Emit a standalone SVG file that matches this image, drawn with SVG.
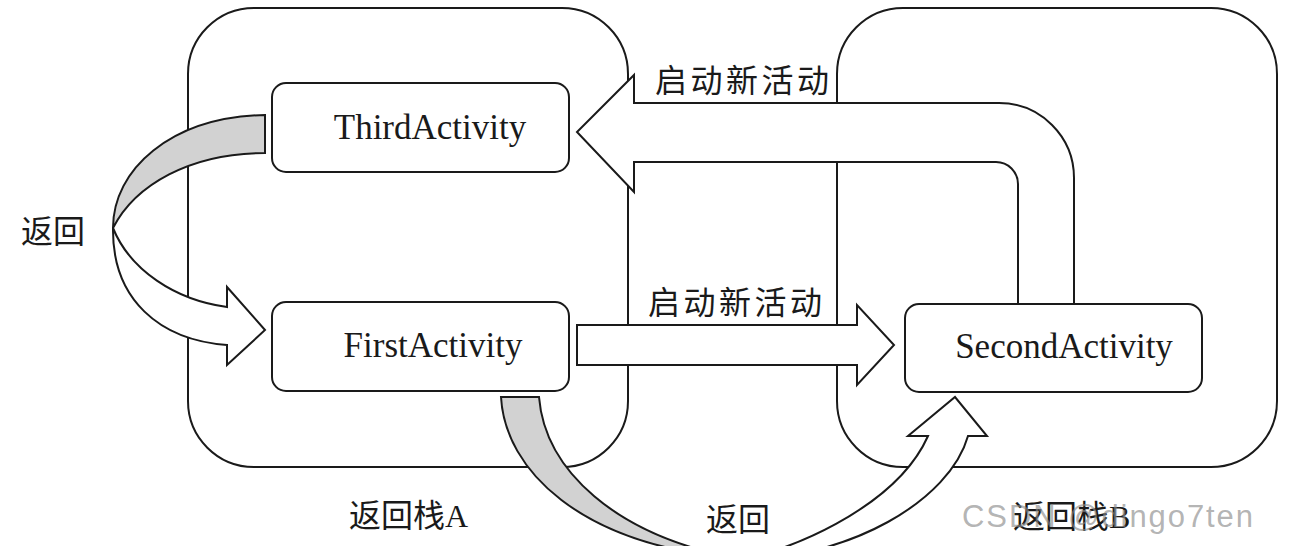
<svg xmlns="http://www.w3.org/2000/svg" width="1316" height="546" viewBox="0 0 1316 546">
<style>
.ln{stroke:#1a1a1a;stroke-width:2;stroke-linejoin:miter}
.box{fill:#fff;stroke:#1a1a1a;stroke-width:2}
.stk{fill:none;stroke:#1a1a1a;stroke-width:2}
.w{fill:#fff}
.g{fill:#d2d2d2}
.en{font-family:"Liberation Serif","Times New Roman",serif;font-size:35px;fill:#1a1a1a}
.cn{font-family:"Liberation Serif","Noto Sans CJK SC",sans-serif;font-size:32px;fill:#1a1a1a}
.wm{font-family:"Liberation Sans",Arial,sans-serif;font-size:31px;fill:#8a8a8a;fill-opacity:0.65}
</style>
<rect width="1316" height="546" fill="#fff"/>
<g id="stackA"><rect class="stk" x="188" y="8" width="440" height="459" rx="66" ry="66"/></g>
<g id="stackB"><rect class="stk" x="837" y="8" width="440" height="459" rx="66" ry="66"/></g>
<g id="connectors">
<path class="ln w" d="M1074,304 L1074,178 A75,75 0 0 0 999,103 L634,103 L634,75 L577,132 L634,192 L634,162 L996,162 A22,22 0 0 1 1018,184 L1018,304 Z"/>
<path class="ln w" d="M577,325 L857,325 L857,305 L894,345 L857,385 L857,365 L577,365 Z"/>
<path class="ln g" d="M265,115 C170,117 113,170 113,228 C135,185 190,153 265,153 Z"/>
<path class="ln w" d="M113,228 C130,270 175,300 227,307 L227,287 L265,330 L227,365 L227,345 C160,340 112,300 113,228 Z"/>
<path class="ln g" d="M501,397 L539,397 C545,470 615,535 735,558 C580,545 505,470 501,397 Z"/>
<path class="ln w" d="M928,436 L908,436 L955,397 L987,436 L968,436 C950,500 850,560 735,560 C780,555 895,510 928,436 Z"/>
</g>
<g id="third"><rect class="box" x="272" y="83" width="297" height="89" rx="14" ry="14"/><text class="en" x="430" y="139" text-anchor="middle">ThirdActivity</text></g>
<g id="first"><rect class="box" x="272" y="302" width="297" height="89" rx="14" ry="14"/><text class="en" x="433" y="357" text-anchor="middle">FirstActivity</text></g>
<g id="second"><rect class="box" x="905" y="304" width="297" height="88" rx="14" ry="14"/><text class="en" x="1064" y="358" text-anchor="middle">SecondActivity</text></g>
<g id="labels">
<text class="cn" x="655" y="92" textLength="174">启动新活动</text>
<text class="cn" x="648" y="314" textLength="174">启动新活动</text>
<text class="cn" x="21" y="243">返回</text>
<text class="cn" x="706" y="531">返回</text>
<text class="cn" x="349" y="527">返回栈A</text>
<text class="cn" x="1013" y="528">返回栈B</text>
</g>
<text class="wm" x="962" y="527" textLength="291">CSDN @dingo7ten</text>
</svg>
